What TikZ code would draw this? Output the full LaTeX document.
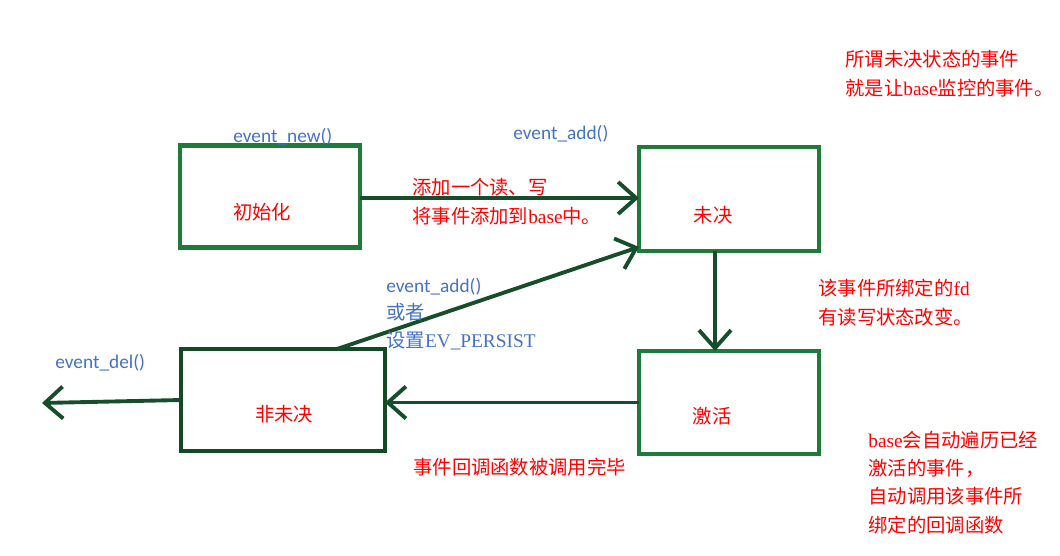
\documentclass[tikz,border=0pt]{standalone}
\usepackage{fontspec}
\setmainfont{Liberation Serif}
\newfontfamily\cjk{Noto Sans CJK SC}
\newfontfamily\calib{Carlito}
\usetikzlibrary{arrows.meta,positioning,calc}
\definecolor{boxgreen}{HTML}{1E7B3A}
\definecolor{darkgreen}{HTML}{124A26}
\definecolor{arrowgreen}{HTML}{164E2C}
\definecolor{bluetext}{HTML}{4472C4}
\definecolor{redtext}{HTML}{FF0000}
\tikzset{
  statebox/.style={draw=boxgreen,line width=2.8pt,fill=white,inner sep=0pt,outer sep=0pt,
    minimum width=3.6cm,minimum height=2.04cm},
  darkbox/.style={statebox,draw=darkgreen,minimum width=4.08cm},
  arr/.style={-{Straight Barb[length=3.6mm,width=6.4mm,line width=2.2pt]},line width=2.2pt,draw=arrowgreen},
  redtxt/.style={font=\cjk\fontsize{11}{16.5}\selectfont,text=redtext,align=left,anchor=west,inner sep=0pt},
  bluetxt/.style={font=\calib\fontsize{11}{15.5}\selectfont,text=bluetext,align=left,anchor=west,inner sep=0pt},
}

\begin{document}
\begin{tikzpicture}[x=0.02cm,y=-0.02cm]
  \useasboundingbox (0,0) rectangle (1060,555);
  % states
  \node[statebox] (init) at (270,196.5) {};
  \node[statebox,minimum height=2.08cm] (pend) at (729,199) {};
  \node[statebox,minimum height=2.06cm] (act) at (729,402.5) {};
  \node[darkbox] (non) at (283,400) {};
  \node[redtxt,anchor=center] (initlbl) at (262,212) {初始化};
  \node[redtxt,anchor=center] (pendlbl) at (713,215) {未决};
  \node[redtxt,anchor=center] (actlbl) at (712,416) {激活};
  \node[redtxt,anchor=center] (nonlbl) at (284,414) {非未决};
  \coordinate (del) at (42,403);
  % transitions
  \draw[arr] (init.east |- 0,198) -- (pend.west |- 0,198);
  \draw[arr] ($(pend.south)+(-14,0)$) -- ($(act.north)+(-14,0)$);
  \draw[arr] (act.west) -- (act.west -| non.east);
  \draw[arr] (non.west) -- (del);
  \draw[arr] ($(non.north west)!0.765!(non.north east)$) -- ($(pend.south west)+(0,-4)$);
  % notes
  \node[bluetxt] (newlbl) at (233,137) {event\_new()};
  \node[bluetxt] (addlbl) at (513,134) {event\_add()};
  \node[redtxt] (addnote) at (412,201.5) {添加一个读、写\\将事件添加到{\rmfamily base}中。};
  \node[bluetxt] (readd) at (386,314) {event\_add()\\{\cjk 或者}\\{\cjk 设置}{\rmfamily EV\_PERSIST}};
  \node[bluetxt] (dellbl) at (55,363) {event\_del()};
  \node[redtxt] (donenote) at (413,467) {事件回调函数被调用完毕};
  \node[redtxt] (pendnote) at (845,74) {所谓未决状态的事件\\就是让{\rmfamily base}监控的事件。};
  \node[redtxt] (fdnote) at (818,302.5) {该事件所绑定的{\rmfamily fd}\\有读写状态改变。};
  \node[redtxt,font=\cjk\fontsize{11}{16}\selectfont] (basenote) at (868,482.5) {{\rmfamily base}会自动遍历已经\\激活的事件，\\自动调用该事件所\\绑定的回调函数};
\end{tikzpicture}
\end{document}
